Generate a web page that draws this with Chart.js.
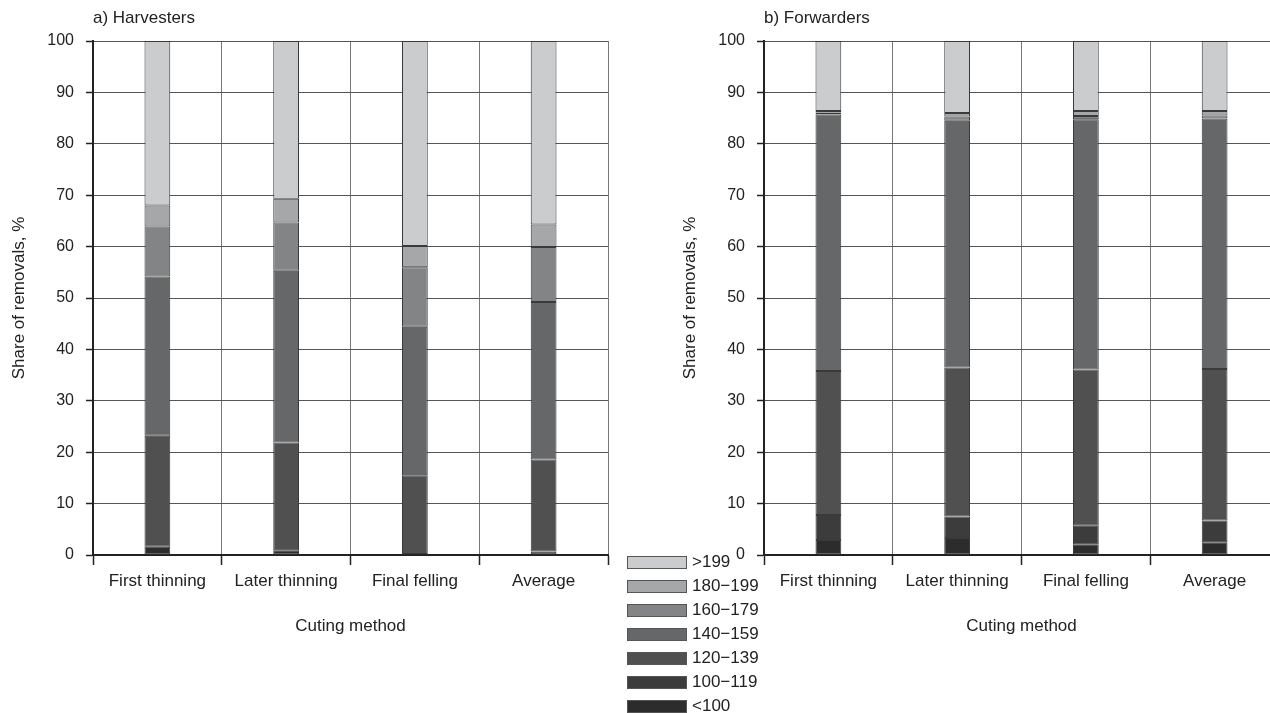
<!DOCTYPE html>
<html>
<head>
<meta charset="utf-8">
<script src="https://cdn.jsdelivr.net/npm/chart.js@4/dist/chart.umd.min.js"></script>
<style>
  html, body { margin: 0; padding: 0; background: #fff; overflow: hidden; width: 1270px; height: 713px; }
  canvas { position: absolute; top: 0; }
  #legend { position: absolute; left: 627px; top: 550px; font-family: "Liberation Sans", Arial, sans-serif; font-size: 17px; color: #222; }
  .row { display: flex; align-items: center; height: 24px; }
  .box { width: 58px; height: 11px; border: 1px solid #555; margin-right: 5px; }
</style>
</head>
<body>
<canvas id="harv" width="620" height="640" style="left:0px"></canvas>
<canvas id="forw" width="620" height="640" style="left:671px"></canvas>
<div id="legend"></div>
<script>
const categories = ['First thinning', 'Later thinning', 'Final felling', 'Average'];
const sizeClasses = ['<100', '100\u2212119', '120\u2212139', '140\u2212159', '160\u2212179', '180\u2212199', '>199'];
const classColors = ['#2c2c2c', '#3c3c3c', '#505051', '#666768', '#838486', '#a6a7a9', '#cbcccd'];

// a) Harvesters, share of removals %
const harvLt100 = [1.6, 0.9, 0.2, 0.7];
const harv100 = [0, 0, 0, 0];
const harv120 = [21.6, 21.0, 15.3, 17.9];
const harv140 = [31.0, 33.4, 28.9, 30.6];
const harv160 = [9.7, 9.4, 11.6, 10.7];
const harv180 = [4.1, 4.6, 4.1, 4.4];
const harvGt199 = [32.0, 30.7, 39.9, 35.7];

// b) Forwarders
const forwLt100 = [2.9, 3.3, 2.1, 2.5];
const forw100 = [4.9, 4.2, 3.6, 4.2];
const forw120 = [28.0, 29.0, 30.4, 29.5];
const forw140 = [49.9, 48.0, 48.7, 48.7];
const forw160 = [0.4, 0.8, 0.6, 0.6];
const forw180 = [0.3, 0.7, 1.0, 0.9];
const forwGt199 = [13.6, 14.0, 13.6, 13.6];

const yTicks = [0, 10, 20, 30, 40, 50, 60, 70, 80, 90, 100];

const FONT = '"Liberation Sans", Arial, sans-serif';
const TEXT = '#222';

const panelTitle = {
    id: 'panelTitle',
    afterDraw(chart, args, opts) {
        const ctx = chart.ctx;
        ctx.save();
        ctx.font = '17px ' + FONT;
        ctx.fillStyle = TEXT;
        ctx.textBaseline = 'middle';
        ctx.textAlign = 'left';
        ctx.fillText(opts.text, chart.chartArea.left, 18);
        ctx.restore();
    }
};

function makeChart(id, title, series) {
    const datasets = series.map((data, i) => ({
        label: sizeClasses[i],
        data: data,
        backgroundColor: classColors[i],
        borderColor: '#3a3a3a',
        borderWidth: 1,
        borderSkipped: false,
        barPercentage: 0.2,
        categoryPercentage: 1
    }));
    return new Chart(document.getElementById(id), {
        type: 'bar',
        data: { labels: categories, datasets },
        plugins: [panelTitle],
        options: {
            responsive: false,
            animation: false,
            layout: { padding: { top: 41, right: 12, left: 0, bottom: 0 } },
            plugins: {
                legend: { display: false },
                tooltip: { enabled: false },
                panelTitle: { text: title }
            },
            scales: {
                x: {
                    stacked: true,
                    afterFit(scale) { scale.height = 85; },
                    grid: { offset: true, color: '#777', lineWidth: 1, tickLength: 10, tickColor: '#222', tickWidth: 1.5 },
                    border: { display: true, color: '#222', width: 2 },
                    ticks: { color: TEXT, font: { family: FONT, size: 17 }, padding: 6, maxRotation: 0 },
                    title: { display: true, text: 'Cuting method', color: TEXT, font: { family: FONT, size: 17 }, padding: { top: 0, bottom: 3 } }
                },
                y: {
                    stacked: true,
                    min: 0,
                    max: 100,
                    afterFit(scale) { scale.width = 93; },
                    afterBuildTicks(scale) { scale.ticks = yTicks.map(v => ({ value: v })); },
                    grid: { color: '#555', lineWidth: 1, tickLength: 7, tickColor: '#222', tickWidth: 1.5 },
                    border: { display: true, color: '#222', width: 2 },
                    ticks: { color: TEXT, font: { family: FONT, size: 16 }, padding: 12 },
                    title: { display: true, text: 'Share of removals, %', color: TEXT, font: { family: FONT, size: 17 }, padding: { top: 9, bottom: 0 } }
                }
            }
        }
    });
}

makeChart('harv', 'a) Harvesters', [harvLt100, harv100, harv120, harv140, harv160, harv180, harvGt199]);
makeChart('forw', 'b) Forwarders', [forwLt100, forw100, forw120, forw140, forw160, forw180, forwGt199]);

// legend, top entry first
const legend = document.getElementById('legend');
for (let i = sizeClasses.length - 1; i >= 0; i--) {
    const row = document.createElement('div');
    row.className = 'row';
    const box = document.createElement('div');
    box.className = 'box';
    box.style.background = classColors[i];
    const label = document.createElement('span');
    label.textContent = sizeClasses[i];
    row.appendChild(box);
    row.appendChild(label);
    legend.appendChild(row);
}
</script>
</body>
</html>
